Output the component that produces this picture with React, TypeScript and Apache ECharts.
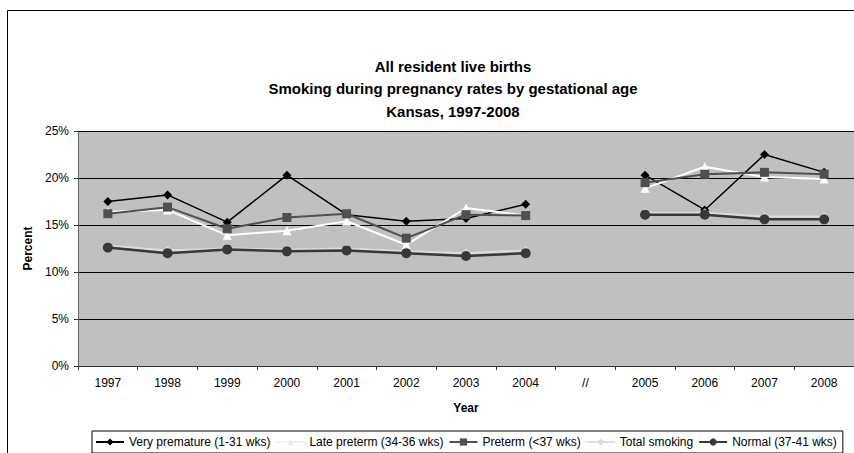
import React, { useEffect, useRef } from "react";
import * as echarts from "echarts";

const categories = ["1997", "1998", "1999", "2000", "2001", "2002", "2003", "2004", "//", "2005", "2006", "2007", "2008"];
const veryPremature = [17.5, 18.2, 15.3, 20.3, 16.1, 15.4, 15.7, 17.2, null, 20.3, 16.6, 22.5, 20.6];
const latePreterm = [16.4, 16.6, 13.9, 14.4, 15.4, 12.9, 16.8, 16.0, null, 18.9, 21.2, 20.1, 19.9];
const preterm = [16.2, 16.9, 14.6, 15.8, 16.2, 13.6, 16.1, 16.0, null, 19.5, 20.4, 20.6, 20.4];
const totalSmoking = [12.8, 12.3, 12.5, 12.4, 12.5, 12.2, 12.0, 12.3, null, 16.3, 16.3, 15.9, 15.9];
const normal = [12.6, 12.0, 12.4, 12.2, 12.3, 12.0, 11.7, 12.0, null, 16.1, 16.1, 15.6, 15.6];
const titleLines = ["All resident live births", "Smoking during pregnancy rates by gestational age", "Kansas, 1997-2008"];

const FONT = "'Liberation Sans', Arial, sans-serif";

export default function App() {
  const ref = useRef<HTMLDivElement>(null);
  useEffect(() => {
    if (!ref.current) return;
    const chart = echarts.init(ref.current, null, { renderer: "svg" });
    const mk = (name: string, data: any[], color: string, symbol: string, size: number, width: number) => ({
      name,
      type: "line",
      data,
      connectNulls: false,
      symbol,
      symbolSize: size,
      itemStyle: { color, borderWidth: 0 },
      lineStyle: { color, width },
      emphasis: { disabled: true },
    });
    chart.setOption({
      animation: false,
      backgroundColor: "#fff",
      textStyle: { fontFamily: FONT },
      graphic: [
        { type: "rect", shape: { x: 7.5, y: 10.5, width: 900, height: 500 }, style: { fill: "none", stroke: "#000", lineWidth: 1 }, silent: true, z: -1 },
        ...titleLines.map((t, i) => ({
          type: "text",
          x: 453,
          y: 66 + i * 22.5,
          style: { text: t, fill: "#000", font: `bold 15px ${FONT}`, textAlign: "center", align: "center", textVerticalAlign: "middle", verticalAlign: "middle" },
          silent: true,
        })),
      ],
      grid: { left: 78, top: 131, width: 777, height: 235, show: true, backgroundColor: "#c0c0c0", borderWidth: 0 },
      legend: {
        left: 92,
        top: 431,
        padding: [5, 6, 5, 3],
        borderColor: "#000",
        borderWidth: 1,
        itemWidth: 28,
        itemHeight: 9,
        itemGap: 5,
        backgroundColor: "#fff",
        textStyle: { fontSize: 12, color: "#000", fontFamily: FONT },
        data: [
          "Very premature (1-31 wks)",
          { name: "Late preterm (34-36 wks)", itemStyle: { color: "#ececec" }, lineStyle: { color: "#f2f2f2" } },
          "Preterm (<37 wks)",
          "Total smoking",
          "Normal (37-41 wks)",
        ],
      },
      xAxis: {
        type: "category",
        data: categories,
        name: "Year",
        nameLocation: "middle",
        nameGap: 36,
        nameTextStyle: { fontWeight: "bold", fontSize: 12, color: "#000" },
        axisLine: { lineStyle: { color: "#333", width: 1 } },
        axisTick: { show: true, length: 4, lineStyle: { color: "#333" } },
        axisLabel: { fontSize: 12, color: "#000", margin: 11 },
      },
      yAxis: {
        type: "value",
        min: 0,
        max: 25,
        interval: 5,
        name: "Percent",
        nameLocation: "middle",
        nameGap: 42,
        nameTextStyle: { fontWeight: "bold", fontSize: 12, color: "#000" },
        axisLine: { show: true, lineStyle: { color: "#666", width: 1 } },
        axisTick: { show: true, length: 4, lineStyle: { color: "#333" } },
        axisLabel: { fontSize: 12, color: "#000", margin: 9, formatter: (v: number) => `${v}%` },
        splitLine: { lineStyle: { color: "#000", width: 1 } },
      },
      series: [
        mk("Very premature (1-31 wks)", veryPremature, "#000000", "diamond", 9, 1.5),
        mk("Late preterm (34-36 wks)", latePreterm, "#ffffff", "triangle", 9, 2),
        mk("Preterm (<37 wks)", preterm, "#505050", "rect", 9, 2),
        mk("Total smoking", totalSmoking, "#dcdcdc", "diamond", 9, 2),
        mk("Normal (37-41 wks)", normal, "#383838", "circle", 10, 2.5),
      ],
    });
    return () => chart.dispose();
  }, []);
  return <div ref={ref} style={{ position: "fixed", left: 0, top: 0, width: 854, height: 453 }} />;
}
